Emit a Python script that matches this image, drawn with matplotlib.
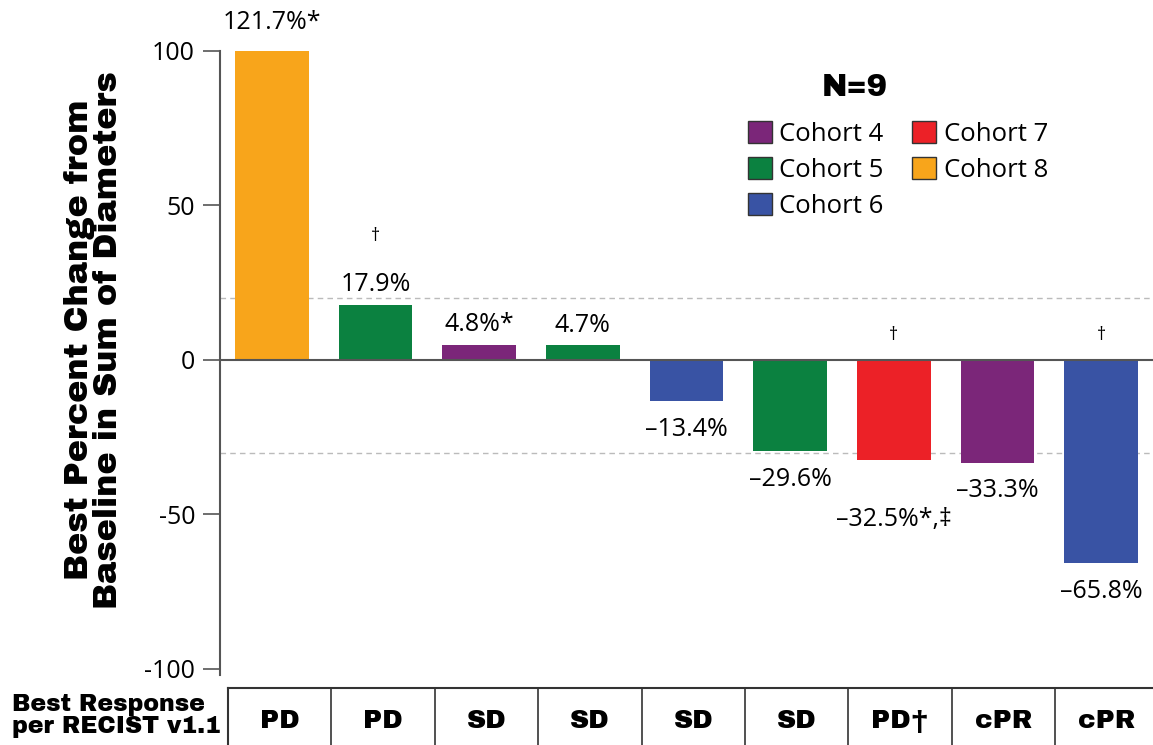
import numpy as np
import matplotlib
matplotlib.use("Agg")
import matplotlib.pyplot as plt
from matplotlib.patches import Patch

# Data

values = [121.7, 17.9, 4.8, 4.7, -13.4, -29.6, -32.5, -33.3, -65.8]
labels = ["121.7%*", "17.9%", "4.8%*", "4.7%", "–13.4%", "–29.6%", "–32.5%*,‡", "–33.3%", "–65.8%"]
cohorts = [8, 5, 4, 5, 6, 5, 7, 4, 6]
dagger = [False, True, False, False, False, False, True, False, True]
responses = ["PD", "PD", "SD", "SD", "SD", "SD", "PD†", "cPR", "cPR"]
cohort_names = [4, 5, 6, 7, 8]
cohort_colors = {4: "#7B2679", 5: "#0B8140", 6: "#3953A4", 7: "#EC2127", 8: "#F8A51B"}

W, H = 1153, 745
num_font = "Open Sans"
heavy = ["Archivo Black", "DejaVu Sans"]

fig = plt.figure(figsize=(W / 100, H / 100), dpi=100)

# Main bar axes
ax = fig.add_axes([220 / W, 1 - 669 / H, (W - 220) / W, (669 - 50.7) / H])
x = np.arange(len(values))
bar_vals = np.clip(values, -100, 100)
ax.bar(x, bar_vals, width=0.71, color=[cohort_colors[c] for c in cohorts], zorder=2)

ax.set_xlim(-0.5, 8.5)
ax.set_ylim(-100, 100)
ax.set_yticks([100, 50, 0, -50, -100])
ax.set_yticklabels(["100", "50", "0", "-50", "-100"], fontfamily=num_font, fontsize=18)
ax.tick_params(axis="y", length=12, width=1.2, color="#555555", pad=6)
ax.set_xticks([])
for s in ["top", "right", "bottom"]:
    ax.spines[s].set_visible(False)
ax.spines["left"].set_color("#555555")
ax.spines["left"].set_linewidth(1.5)
ax.spines["left"].set_bounds(-102, 100)

ax.axhline(0, color="#555555", lw=1.5, zorder=3)
ax.axhline(20, color="#BBBBBB", lw=1, ls=(0, (4, 3)), zorder=1)
ax.axhline(-30, color="#BBBBBB", lw=1, ls=(0, (4, 3)), zorder=1)

# Value labels
for i, v in enumerate(values):
    bv = bar_vals[i]
    if v >= 0:
        off = 5 if v > 100 else 2.5
        ax.text(i, bv + off, labels[i], ha="center", va="bottom",
                fontfamily=num_font, fontsize=18, clip_on=False)
    else:
        extra = 10 if "‡" in labels[i] else 0
        ax.text(i, bv - 5 - extra, labels[i], ha="center", va="top",
                fontfamily=num_font, fontsize=18, clip_on=False)
    if dagger[i]:
        yd = v + 22 if v > 0 else 8
        ax.text(i, yd, "†", ha="center", va="center", fontfamily=num_font, fontsize=13)

# Legend
handles = [Patch(facecolor=cohort_colors[c], edgecolor="#333333", linewidth=1) for c in cohort_names]
leg = ax.legend(handles, [f"Cohort {c}" for c in cohort_names], ncol=2,
                loc="upper left", bbox_to_anchor=((735 - 220) / (W - 220), 1 - (108 - 50.7) / (669 - 50.7)),
                frameon=False, prop={"family": num_font, "size": 18.5},
                handlelength=0.93, handleheight=0.93, handletextpad=0.3,
                labelspacing=0.4, columnspacing=1.1, borderpad=0)
fig.text(855 / W, 1 - 88 / H, "N=9", ha="center", va="center",
         fontfamily=heavy, fontweight="black", fontsize=22)

# Y label
fig.text(94 / W, 1 - 340 / H, "Best Percent Change from\nBaseline in Sum of Diameters",
         rotation=90, ha="center", va="center", multialignment="center",
         fontfamily=heavy, fontweight="black", fontsize=24, linespacing=0.95)

# Response table
col_w = 103.4
tab = fig.add_axes([228 / W, 0, (W - 228) / W, 57 / H])
tab.set_xlim(0, (W - 228) / col_w)
tab.set_ylim(0, 1)
tab.set_xticks([])
tab.set_yticks([])
for s in ["right", "bottom"]:
    tab.spines[s].set_visible(False)
for s in ["top", "left"]:
    tab.spines[s].set_color("#333333")
    tab.spines[s].set_linewidth(1.5)
for k in range(1, len(responses)):
    tab.axvline(k, color="#333333", lw=1.2)
for k, r in enumerate(responses):
    tab.text(k + 0.5, 0.42, r, ha="center", va="center",
             fontfamily=heavy, fontweight="black", fontsize=19)

fig.text(12 / W, 1 - 716 / H, "Best Response\nper RECIST v1.1", ha="left", va="center",
         fontfamily=heavy, fontweight="black", fontsize=17, linespacing=0.95)

fig.savefig("out.png", dpi=100)
